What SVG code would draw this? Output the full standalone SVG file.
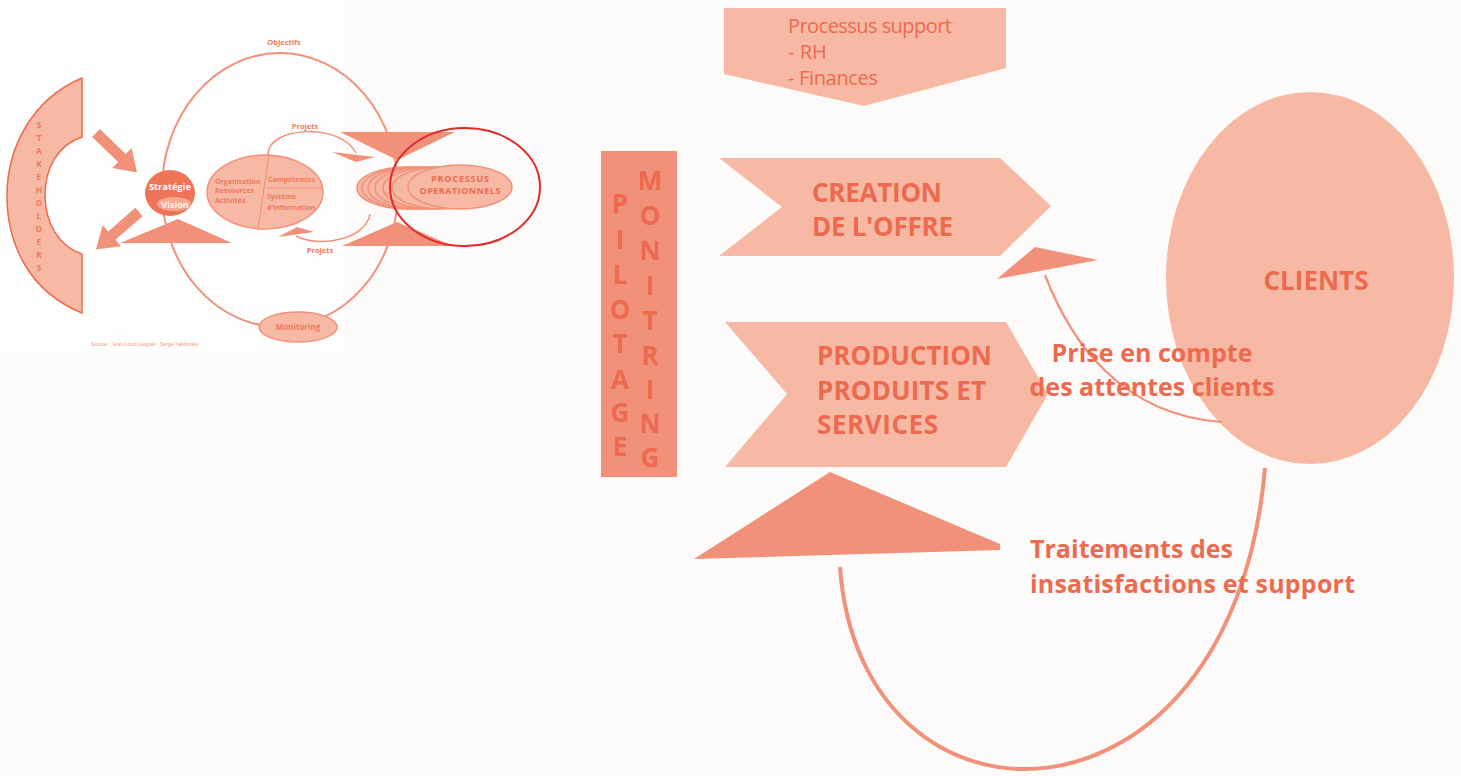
<svg xmlns="http://www.w3.org/2000/svg" width="1461" height="776" viewBox="0 0 1461 776">
  <defs>
    <style>
      .light { fill: #f7b9a4; }
      .mid { fill: #f2917a; }
      .dark { fill: #ef7559; }
      .line { fill: none; stroke: #f2917a; }
      .edge { stroke: #f2917a; stroke-width: 1.5; }
      .txt { font-family: "Open Sans", "Liberation Sans", sans-serif; font-weight: 700; fill: #ee6a4f; }
      .reg { font-family: "Open Sans", "Liberation Sans", sans-serif; font-weight: 400; fill: #ee6a4f; }
      .mini { font-family: "Open Sans", "Liberation Sans", sans-serif; font-weight: 700; fill: #ef7a5e; }
      .vletter { font-family: "Open Sans", "Liberation Sans", sans-serif; font-weight: 700; fill: #ee6a4f; font-size: 26px; text-anchor: middle; }
    </style>
    <path id="fat-arrow" d="M0,-5.5 L36,-5.5 L36,-14 L57,0 L36,14 L36,5.5 L0,5.5 Z"/>
  </defs>

  <rect width="1461" height="776" fill="#fdfbfa"/>
  <rect x="0" y="0" width="345" height="352" fill="#fefefe"/>

  <!-- ===== Small overview figure (left) ===== -->
  <g id="overview">
    <!-- objectives loop -->
    <ellipse class="line" cx="280" cy="190" rx="118" ry="137" stroke-width="2"/>
    <text class="mini" x="284" y="45" font-size="7.5" text-anchor="middle">Objectifs</text>

    <g id="stakeholders">
      <path class="light" stroke="#ee6a4f" stroke-width="1.5"
            d="M82,78 C30,100 7,150 7,196 C7,245 30,292 82,313 L82,254 C58,246 45,222 45,195 C45,168 58,145 82,137 Z"/>
      <g class="mini" font-size="8.5" text-anchor="middle">
        <text x="39" y="128">S</text>
        <text x="39" y="141">T</text>
        <text x="39" y="154">A</text>
        <text x="39" y="167">K</text>
        <text x="39" y="180">E</text>
        <text x="39" y="193">H</text>
        <text x="39" y="206">O</text>
        <text x="39" y="219">L</text>
        <text x="39" y="232">D</text>
        <text x="39" y="245">E</text>
        <text x="39" y="258">R</text>
        <text x="39" y="271">S</text>
      </g>
    </g>

    <use href="#fat-arrow" class="mid" transform="translate(96,133) rotate(44)"/>
    <use href="#fat-arrow" class="mid" transform="translate(139,212) rotate(139)"/>

    <g id="strategie">
      <polygon class="mid" points="120,243 178,219 232,243"/>
      <ellipse class="dark" cx="170" cy="193" rx="25" ry="23"/>
      <text x="170" y="190" font-family="Open Sans, Liberation Sans, sans-serif" font-weight="700" font-size="9.5" fill="#ffffff" text-anchor="middle" textLength="42">Stratégie</text>
      <ellipse cx="174" cy="204" rx="17" ry="7" fill="#f6a891"/>
      <text x="175" y="207.5" font-family="Open Sans, Liberation Sans, sans-serif" font-weight="700" font-size="9" fill="#fff3ee" text-anchor="middle">Vision</text>
    </g>

    <g id="organisation">
      <ellipse class="light edge" cx="265" cy="192" rx="58" ry="37"/>
      <path class="line" stroke-width="1.2" d="M269,155 L258,229 M266,188 L323,188"/>
      <g class="mini" font-size="7">
        <text x="215" y="184">Organisation</text>
        <text x="215" y="193">Ressources</text>
        <text x="215" y="203">Activités</text>
        <text x="268" y="182">Compétences</text>
        <text x="267" y="199">Système</text>
        <text x="267" y="210">d'information</text>
      </g>
    </g>

    <!-- project loops -->
    <path class="line" stroke-width="1.5" d="M268,156 C266,126 340,122 356,153"/>
    <polygon class="mid" points="332,152 375,157 356,162"/>
    <text class="mini" x="305" y="129" font-size="7.5" text-anchor="middle">Projets</text>
    <path class="line" stroke-width="1.5" d="M370,214 C366,240 318,248 296,236"/>
    <polygon class="mid" points="278,237 297,227 314,232"/>
    <text class="mini" x="320" y="253" font-size="7.5" text-anchor="middle">Projets</text>

    <g id="processus-operationnels">
      <polygon class="mid" points="340,132 455,132 397,160"/>
      <polygon class="mid" points="342,246 397,222 453,246"/>
      <ellipse class="light edge" cx="407" cy="188" rx="50" ry="21"/>
      <ellipse class="light edge" cx="412" cy="188" rx="50" ry="21"/>
      <ellipse class="light edge" cx="418" cy="188" rx="50" ry="21"/>
      <ellipse class="light edge" cx="425" cy="188" rx="50" ry="21"/>
      <ellipse class="light edge" cx="433" cy="188" rx="50" ry="21"/>
      <ellipse class="light edge" cx="442" cy="188" rx="50" ry="21"/>
      <ellipse class="light edge" cx="460" cy="187" rx="52" ry="22"/>
      <text class="txt" x="460" y="182" font-size="9" text-anchor="middle" textLength="58">PROCESSUS</text>
      <text class="txt" x="460" y="194" font-size="9" text-anchor="middle" textLength="81">OPERATIONNELS</text>
    </g>

    <ellipse id="focus-ring" cx="465" cy="187" rx="75" ry="59" fill="none" stroke="#e12a2a" stroke-width="2"/>

    <g id="monitoring-mini">
      <ellipse class="light edge" cx="298" cy="327" rx="39" ry="15"/>
      <text class="mini" x="298" y="330" font-size="8" text-anchor="middle">Monitoring</text>
    </g>

    <text x="91" y="346" font-family="Liberation Sans, sans-serif" font-size="5.2" fill="#f29a82">Source : Jean-Louis Leignel - Serge Yablonsky</text>
  </g>

  <!-- ===== Main process map (right) ===== -->
  <g id="support">
    <polygon class="light" points="724,8 1006,8 1006,68 864,106 724,74"/>
    <text class="reg" x="788" y="33" font-size="20" textLength="164">Processus support</text>
    <text class="reg" x="788" y="59" font-size="20">- RH</text>
    <text class="reg" x="788" y="85" font-size="20" textLength="90">- Finances</text>
  </g>

  <g id="pilotage">
    <rect class="mid" x="601" y="151" width="76" height="326"/>
    <text class="vletter" x="620" y="213">P</text>
    <text class="vletter" x="620" y="249">I</text>
    <text class="vletter" x="620" y="284">L</text>
    <text class="vletter" x="620" y="319">O</text>
    <text class="vletter" x="620" y="353">T</text>
    <text class="vletter" x="620" y="389">A</text>
    <text class="vletter" x="620" y="422">G</text>
    <text class="vletter" x="620" y="456">E</text>
    <text class="vletter" x="650" y="190" font-size="28">M</text>
    <text class="vletter" x="650" y="225" font-size="28">O</text>
    <text class="vletter" x="650" y="260" font-size="28">N</text>
    <text class="vletter" x="650" y="295" font-size="28">I</text>
    <text class="vletter" x="650" y="330" font-size="28">T</text>
    <text class="vletter" x="650" y="365" font-size="28">R</text>
    <text class="vletter" x="650" y="399" font-size="28">I</text>
    <text class="vletter" x="650" y="433" font-size="28">N</text>
    <text class="vletter" x="650" y="467" font-size="28">G</text>
  </g>

  <g id="creation">
    <polygon class="light" points="719,158 1000,158 1051,206 1000,256 719,256 782,207"/>
    <text class="txt" x="812" y="202" font-size="26" textLength="130">CREATION</text>
    <text class="txt" x="812" y="236" font-size="26" textLength="141">DE L'OFFRE</text>
  </g>

  <g id="production">
    <polygon class="light" points="725,322 1006,322 1048,394 1006,467 725,467 787,394"/>
    <text class="txt" x="817" y="365" font-size="26" textLength="175">PRODUCTION</text>
    <text class="txt" x="817" y="400" font-size="26" textLength="169">PRODUITS ET</text>
    <text class="txt" x="817" y="434" font-size="26" textLength="121">SERVICES</text>
  </g>

  <g id="clients">
    <ellipse class="light" cx="1310" cy="278" rx="144" ry="186"/>
    <text class="txt" x="1316" y="290" font-size="26" text-anchor="middle" textLength="105">CLIENTS</text>
  </g>

  <g id="connectors">
    <!-- customer expectations feeding the offer -->
    <path class="line" stroke-width="2.2" d="M1045,275 C1070,340 1120,415 1222,422"/>
    <polygon class="mid" points="997,279 1035,247 1098,260"/>
    <!-- dissatisfaction handling loop back to production -->
    <path class="line" stroke-width="4" d="M840,567 C860,852 1232,850 1265,468"/>
    <polygon class="mid" points="694,559 830,472 1000,544 1000,550"/>

    <text class="txt" x="1152" y="362" font-size="25" text-anchor="middle" textLength="201">Prise en compte</text>
    <text class="txt" x="1152" y="396" font-size="25" text-anchor="middle" textLength="245">des attentes clients</text>
    <text class="txt" x="1030" y="558" font-size="25" textLength="203">Traitements des</text>
    <text class="txt" x="1030" y="593" font-size="25" textLength="325">insatisfactions et support</text>
  </g>
</svg>
